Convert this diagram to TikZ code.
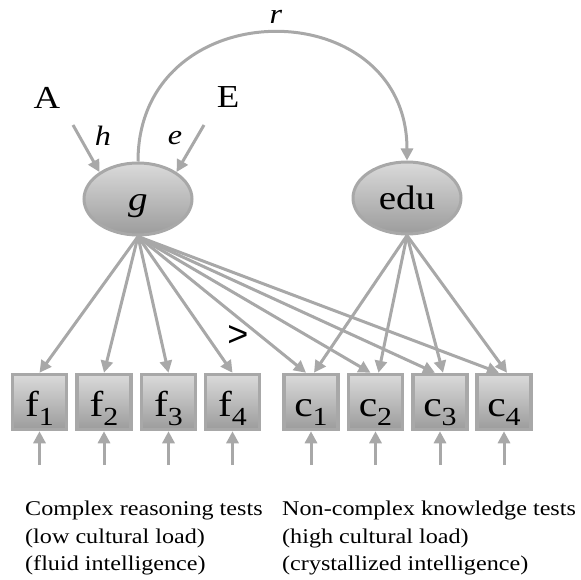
\documentclass[tikz,border=0pt]{standalone}
\usepackage{fontspec}
\setmainfont{Liberation Serif}
\newfontfamily\sansf{Liberation Sans}
\usetikzlibrary{shapes.geometric,arrows.meta}
\definecolor{lg}{RGB}{168,168,168}
\definecolor{ftop}{RGB}{218,218,218}
\definecolor{fbot}{RGB}{156,156,156}
\newcommand{\hs}[1]{\scalebox{1.15}[1]{#1}}
\newcommand{\boxlab}[2]{\hs{#1\raisebox{-0.25em}{\fontsize{26}{26}\selectfont #2}}}
\begin{document}
\begin{tikzpicture}[x=1pt,y=-1pt,
  latent/.style={ellipse, draw=lg, line width=3pt, top color=ftop, bottom color=fbot,
    minimum width=108pt, minimum height=72pt, inner sep=0pt,
    text height=22pt, text depth=0pt, font=\fontsize{34}{34}\selectfont},
  obs/.style={rectangle, draw=lg, line width=3.5pt, top color=ftop, bottom color=fbot,
    minimum width=54pt, minimum height=55pt, inner sep=0pt,
    text height=28pt, text depth=0pt, font=\fontsize{36}{36}\selectfont},
  conn/.style={draw=lg, line width=3pt, -{Triangle[length=12pt,width=12pt]}},
  big/.style={font=\fontsize{32}{32}\selectfont, inner sep=0pt},
  lbl/.style={font=\fontsize{28}{28}\selectfont\itshape, inner sep=0pt},
  captxt/.style={font=\fontsize{21}{21}\selectfont, inner sep=0pt, anchor=base west}]
\useasboundingbox (0,0) rectangle (580,580);
% latent variables
\node[latent] (g) at (138,199) {\hs{\itshape g}};
\node[latent] (edu) at (407,198) {\hs{edu}};
% sources
\node[big] (A) at (47,97.5) {\hs{A}};
\node[big] (E) at (228,97.5) {\hs{E}};
\coordinate (aA) at (73,125);
\coordinate (aE) at (204,125);
\draw[conn] (aA) -- (g.145);
\draw[conn] (aE) -- (g.35);
\node[lbl] (h) at (103,136) {\hs{h}};
\node[lbl] (e) at (175,138) {\hs{e}};
% correlation
\draw[conn] (g.north) .. controls (138,-10) and (407,-10) .. (edu.north);
\node[lbl] (r) at (276,17) {\hs{r}};
% observed
\node[obs] (f1) at (39.5,402) {\boxlab{f}{1}};
\node[obs] (f2) at (104,402) {\boxlab{f}{2}};
\node[obs] (f3) at (168.5,402) {\boxlab{f}{3}};
\node[obs] (f4) at (232.5,402) {\boxlab{f}{4}};
\node[obs] (c1) at (311,402) {\boxlab{c}{1}};
\node[obs] (c2) at (375.5,402) {\boxlab{c}{2}};
\node[obs] (c3) at (440,402) {\boxlab{c}{3}};
\node[obs] (c4) at (504,402) {\boxlab{c}{4}};
% loadings
\foreach \t in {f1,f2,f3,f4}
  \draw[conn] (g.south) -- (\t.north);
\foreach \t in {c1,c2,c3,c4}{
  \draw[conn] (g.south) -- ([xshift=-5pt]\t.north);
  \draw[conn] (edu.south) -- ([xshift=3pt]\t.north);
}
\node[inner sep=0pt, font=\sansf\fontsize{36}{36}\selectfont] (gt) at (238,336) {>};
% residuals
\foreach \t/\x in {f1/39.5,f2/104,f3/168.5,f4/232.5,c1/311,c2/375.5,c3/440,c4/504}{
  \coordinate (u\t) at (\x,465);
  \draw[conn] (u\t) -- (\t.south);
}
% captions
\node[captxt] (t1) at (25,515) {\hs{Complex reasoning tests}};
\node[captxt] (t2) at (25,543) {\hs{(low cultural load)}};
\node[captxt] (t3) at (25,570) {\hs{(fluid intelligence)}};
\node[captxt] (t4) at (282,515) {\hs{Non-complex knowledge tests}};
\node[captxt] (t5) at (282,543) {\hs{(high cultural load)}};
\node[captxt] (t6) at (282,570) {\hs{(crystallized intelligence)}};
\end{tikzpicture}
\end{document}
